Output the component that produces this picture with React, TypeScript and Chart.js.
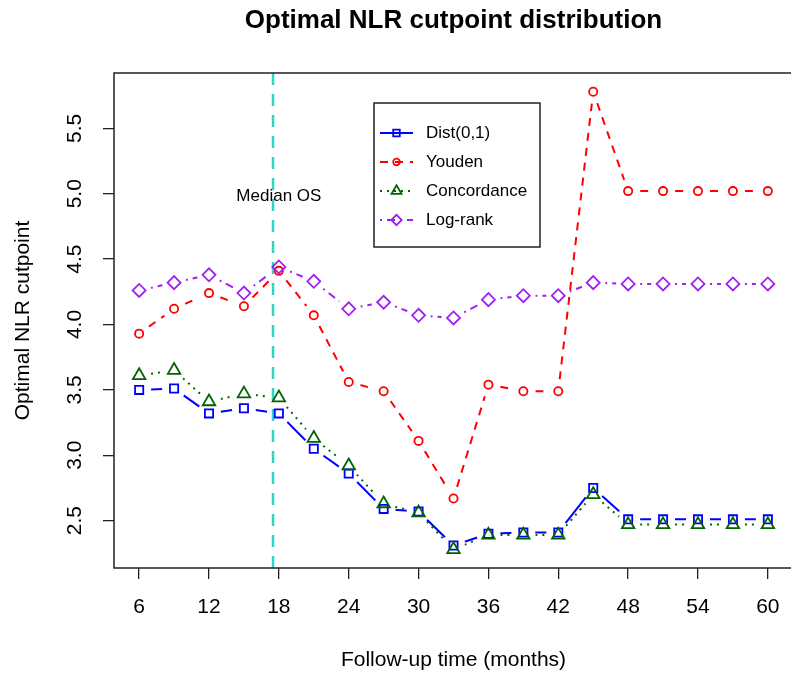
import React, { useEffect, useRef } from 'react';
import { Chart, registerables } from 'chart.js';

Chart.register(...registerables);

// ---------- data ----------
const months = [6, 9, 12, 15, 18, 21, 24, 27, 30, 33, 36, 39, 42, 45, 48, 51, 54, 57, 60];
const distValues = [3.50, 3.51, 3.32, 3.36, 3.32, 3.05, 2.86, 2.59, 2.57, 2.31, 2.40, 2.41, 2.41, 2.75, 2.51, 2.51, 2.51, 2.51, 2.51];
const youdenValues = [3.93, 4.12, 4.24, 4.14, 4.41, 4.07, 3.56, 3.49, 3.11, 2.67, 3.54, 3.49, 3.49, 5.78, 5.02, 5.02, 5.02, 5.02, 5.02];
const concordanceValues = [3.61, 3.65, 3.41, 3.47, 3.44, 3.13, 2.92, 2.63, 2.56, 2.28, 2.39, 2.39, 2.39, 2.70, 2.47, 2.47, 2.47, 2.47, 2.47];
const logrankValues = [4.26, 4.32, 4.38, 4.24, 4.44, 4.33, 4.12, 4.17, 4.07, 4.05, 4.19, 4.22, 4.22, 4.32, 4.31, 4.31, 4.31, 4.31, 4.31];
const seriesNames = ['Dist(0,1)', 'Youden', 'Concordance', 'Log-rank'];
const xTickValues = [6, 12, 18, 24, 30, 36, 42, 48, 54, 60];
const yTickValues = [2.5, 3.0, 3.5, 4.0, 4.5, 5.0, 5.5];
const medianOS = 17.5;
const medianLabel = 'Median OS';
const medianLabelPos = { x: 18, y: 4.98 };
const chartTitle = 'Optimal NLR cutpoint distribution';
const xTitle = 'Follow-up time (months)';
const yTitle = 'Optimal NLR cutpoint';
const xRange = { min: 3.84, max: 62.16 };
const yRange = { min: 2.138, max: 5.923 };

// ---------- styles ----------
const FONT = '"Liberation Sans", Arial, Helvetica, sans-serif';
const GAP = 12;

const seriesStyles = [
  { color: '#0000FF', dash: [] as number[], style: 'rect', radius: 5.8 },
  { color: '#FF0000', dash: [8, 7], style: 'circle', radius: 4.1 },
  { color: '#006400', dash: [2, 5], style: 'triangle', radius: 7.2 },
  { color: '#A020F0', dash: [2, 5, 8, 5], style: 'rectRot', radius: 6.5 },
];

function drawMarker(ctx: CanvasRenderingContext2D, style: string, x: number, y: number, r: number) {
  ctx.beginPath();
  if (style === 'rect') {
    const s = r * Math.SQRT1_2;
    ctx.rect(x - s, y - s, 2 * s, 2 * s);
  } else if (style === 'circle') {
    ctx.arc(x, y, r, 0, Math.PI * 2);
  } else if (style === 'triangle') {
    let a = 0;
    ctx.moveTo(x + Math.sin(a) * r, y - Math.cos(a) * r);
    a += (2 * Math.PI) / 3;
    ctx.lineTo(x + Math.sin(a) * r, y - Math.cos(a) * r);
    a += (2 * Math.PI) / 3;
    ctx.lineTo(x + Math.sin(a) * r, y - Math.cos(a) * r);
  } else {
    ctx.moveTo(x - r, y);
    ctx.lineTo(x, y - r);
    ctx.lineTo(x + r, y);
    ctx.lineTo(x, y + r);
  }
  ctx.closePath();
  ctx.stroke();
}

// lines interrupted around each point (R type = "b")
const gapPlugin = {
  id: 'gapPlugin',
  beforeDatasetDraw(chart: any, args: any) {
    const ctx = chart.ctx as CanvasRenderingContext2D;
    const { left, top, right, bottom } = chart.chartArea;
    ctx.save();
    ctx.beginPath();
    ctx.rect(left - 30, top - 30, right - left + 60, bottom - top + 60);
    args.meta.data.forEach((pt: any) => {
      ctx.moveTo(pt.x + GAP, pt.y);
      ctx.arc(pt.x, pt.y, GAP, 0, Math.PI * 2);
    });
    ctx.clip('evenodd');
  },
  afterDatasetDraw(chart: any, args: any) {
    const ctx = chart.ctx as CanvasRenderingContext2D;
    ctx.restore();
    args.meta.data.forEach((pt: any) => pt.draw(ctx, chart.chartArea));
  },
};

const decorPlugin = {
  id: 'decorPlugin',
  beforeDatasetsDraw(chart: any) {
    const ctx = chart.ctx as CanvasRenderingContext2D;
    const { top, bottom } = chart.chartArea;
    const x = chart.scales.x.getPixelForValue(medianOS);
    ctx.save();
    ctx.strokeStyle = '#33D4C4';
    ctx.lineWidth = 2.5;
    ctx.setLineDash([12, 9]);
    ctx.beginPath();
    ctx.moveTo(x, top);
    ctx.lineTo(x, bottom);
    ctx.stroke();
    ctx.restore();
  },
  afterDatasetsDraw(chart: any) {
    const ctx = chart.ctx as CanvasRenderingContext2D;
    ctx.save();
    ctx.fillStyle = '#000';
    ctx.font = `17px ${FONT}`;
    ctx.textAlign = 'center';
    ctx.textBaseline = 'middle';
    ctx.fillText(
      medianLabel,
      chart.scales.x.getPixelForValue(medianLabelPos.x),
      chart.scales.y.getPixelForValue(medianLabelPos.y)
    );
    ctx.restore();
  },
  afterDraw(chart: any) {
    const ctx = chart.ctx as CanvasRenderingContext2D;
    const { left, top, right, bottom } = chart.chartArea;
    ctx.save();
    // plot box
    ctx.strokeStyle = '#222';
    ctx.lineWidth = 1.5;
    ctx.strokeRect(left, top, right - left, bottom - top);

    // legend
    const lx = 374, ly = 103, lw = 166, lh = 144;
    ctx.fillStyle = '#fff';
    ctx.fillRect(lx, ly, lw, lh);
    ctx.strokeStyle = '#222';
    ctx.lineWidth = 1.5;
    ctx.strokeRect(lx, ly, lw, lh);
    const rowY = [133, 162, 191, 220];
    chart.data.datasets.forEach((ds: any, i: number) => {
      const st = seriesStyles[i];
      const y = rowY[i];
      ctx.strokeStyle = ds.borderColor;
      ctx.lineWidth = 2.2;
      ctx.setLineDash(ds.borderDash || []);
      ctx.lineDashOffset = 0;
      ctx.beginPath();
      ctx.moveTo(380, y);
      ctx.lineTo(413, y);
      ctx.stroke();
      ctx.setLineDash([]);
      ctx.lineWidth = 1.8;
      drawMarker(ctx, st.style, 396.5, y, st.radius * 0.8);
      ctx.fillStyle = '#000';
      ctx.font = `17px ${FONT}`;
      ctx.textAlign = 'left';
      ctx.textBaseline = 'middle';
      ctx.fillText(ds.label, 426, y);
    });
    ctx.restore();
  },
};

const seriesValues = [distValues, youdenValues, concordanceValues, logrankValues];

export default function App() {
  const canvasRef = useRef<HTMLCanvasElement | null>(null);

  useEffect(() => {
    if (!canvasRef.current) return;
    const datasets = seriesValues.map((vals, i) => {
      const dash = seriesStyles[i].dash;
      const patternLen = dash.reduce((a, b) => a + b, 0) || 1;
      return {
        label: seriesNames[i],
        data: months.map((m, j) => ({ x: m, y: vals[j] })),
        order: seriesValues.length - i,
        borderColor: seriesStyles[i].color,
        borderWidth: 2,
        borderDash: dash,
        backgroundColor: 'transparent',
        fill: false,
        tension: 0,
        // each segment starts its dash pattern right after the gap (like R type = "b")
        segment: {
          borderDashOffset: (ctx: any) => -GAP + patternLen * (ctx.p0DataIndex + 1),
        },
        pointStyle: seriesStyles[i].style,
        pointRadius: seriesStyles[i].radius,
        pointBorderWidth: 1.8,
        pointBorderColor: seriesStyles[i].color,
        pointBackgroundColor: 'transparent',
      };
    });

    const chart = new Chart(canvasRef.current, {
      type: 'line',
      data: { datasets },
      options: {
        responsive: false,
        animation: false,
        devicePixelRatio: 1,
        layout: { padding: { left: 0, top: 0, right: 4, bottom: 0 } },
        plugins: {
          legend: { display: false },
          tooltip: { enabled: false },
          title: {
            display: true,
            text: chartTitle,
            fullSize: false,
            color: '#000',
            font: { family: FONT, size: 26, weight: 'bold', lineHeight: 1.2 },
            padding: { top: 5.5, bottom: 36.3 },
          },
        },
        scales: {
          x: {
            type: 'linear',
            min: xRange.min,
            max: xRange.max,
            afterBuildTicks: (scale: any) => {
              scale.ticks = xTickValues.map((value) => ({ value }));
            },
            afterFit: (scale: any) => {
              scale.height = 106;
            },
            ticks: {
              color: '#000',
              font: { family: FONT, size: 21, lineHeight: 1.2 },
              padding: 15.4,
              maxRotation: 0,
              minRotation: 0,
              callback: (v: any) => String(v),
            },
            grid: {
              display: true,
              drawOnChartArea: false,
              drawTicks: true,
              tickLength: 11,
              color: '#222',
              lineWidth: 1.3,
            },
            border: { display: false },
            title: {
              display: true,
              text: xTitle,
              color: '#000',
              font: { family: FONT, size: 21, lineHeight: 1.2 },
              padding: { top: 0, bottom: 1.5 },
            },
          },
          y: {
            type: 'linear',
            min: yRange.min,
            max: yRange.max,
            afterBuildTicks: (scale: any) => {
              scale.ticks = yTickValues.map((value) => ({ value }));
            },
            afterFit: (scale: any) => {
              scale.width = 114;
            },
            ticks: {
              color: '#000',
              font: { family: FONT, size: 21, lineHeight: 1.2 },
              padding: 13.4,
              minRotation: 90,
              maxRotation: 90,
              crossAlign: 'center',
              callback: (v: any) => Number(v).toFixed(1),
            },
            grid: {
              display: true,
              drawOnChartArea: false,
              drawTicks: true,
              tickLength: 11,
              color: '#222',
              lineWidth: 1.3,
            },
            border: { display: false },
            title: {
              display: true,
              text: yTitle,
              color: '#000',
              font: { family: FONT, size: 21, lineHeight: 1.2 },
              padding: { top: 10.4, bottom: 0 },
            },
          },
        },
      },
      plugins: [gapPlugin, decorPlugin],
    } as any);

    return () => chart.destroy();
  }, []);

  return (
    <div
      style={{
        position: 'fixed',
        left: 0,
        top: 0,
        width: 791,
        height: 674,
        overflow: 'hidden',
        background: '#fff',
      }}
    >
      <canvas ref={canvasRef} width={802} height={674} style={{ display: 'block' }} />
    </div>
  );
}
